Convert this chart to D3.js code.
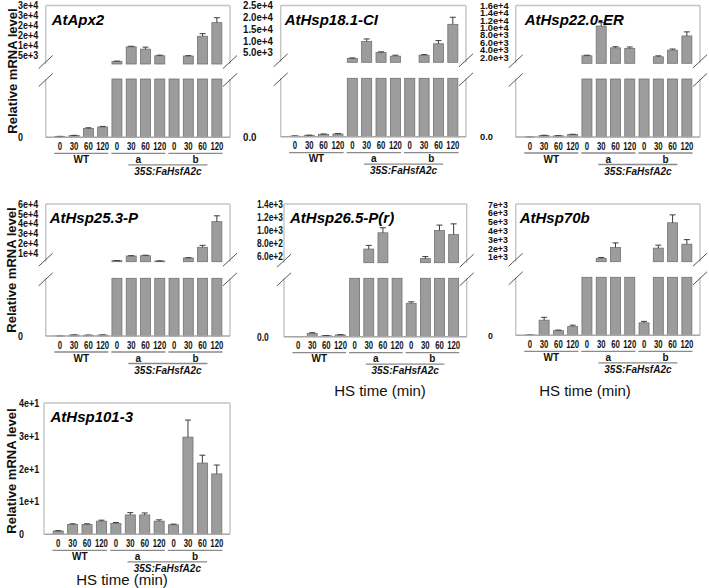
<!DOCTYPE html>
<html><head><meta charset="utf-8">
<script src="https://cdn.jsdelivr.net/npm/d3@7"></script>
<style>
body{margin:0;background:#fff;}
svg{display:block;font-family:"Liberation Sans",Arial,sans-serif;}
</style></head><body>
<svg id="c" width="709" height="588"></svg>
<script>
// ---------- DATA ----------
const timeLabels = ["0", "30", "60", "120"];
const groupLabels = ["WT", "a", "b"];
const lineLabel = "35S:FaHsfA2c";
const yAxisTitle = "Relative mRNA level";
const xAxisTitle = "HS time (min)";
const categories = groupLabels.flatMap(g => timeLabels.map(t => g + "|" + t));

const geneNames = ["AtApx2", "AtHsp18.1-CI", "AtHsp22.0-ER", "AtHsp25.3-P", "AtHsp26.5-P(r)", "AtHsp70b", "AtHsp101-3"];

// values in order WT 0/30/60/120, a 0/30/60/120, b 0/30/60/120
const apx2Values   = [4, 9, 45, 53, 1850, 9150, 8000, 4650, 400, 4500, 14500, 21350];
const apx2Errors   = [1, 1, 4, 3, 100, 300, 1000, 300, 20, 200, 1300, 2500];
const hsp18Values  = [3, 7, 12, 14, 2515, 9680, 5000, 3470, 500, 3880, 8730, 17000];
const hsp18Errors  = [1, 1, 2, 2, 200, 1100, 300, 400, 20, 250, 1350, 3000];
const hsp22Values  = [0.5, 8, 6, 13, 2430, 10460, 4570, 4400, 350, 2160, 3950, 7780];
const hsp22Errors  = [0.3, 1, 1, 1, 150, 900, 300, 400, 20, 250, 300, 1100];
const hsp25Values  = [0.5, 5, 4, 5, 1780, 6600, 6900, 1460, 600, 4550, 15550, 41870];
const hsp25Errors  = [0.3, 1, 1, 1, 150, 300, 500, 150, 30, 300, 2000, 6000];
const hsp26Values  = [0.5, 23, 7, 12, 450, 705, 956, 460, 229, 558, 992, 929];
const hsp26Errors  = [0.3, 4, 1, 2, 10, 57, 78, 10, 10, 31, 83, 165];
const hsp70Values  = [1, 52, 16, 30, 350, 820, 2056, 400, 43, 1980, 4865, 2430];
const hsp70Errors  = [0.5, 10, 2, 5, 10, 100, 520, 10, 5, 340, 900, 520];
const hsp101Values = [1.0, 3.0, 3.0, 4.0, 3.3, 5.9, 5.9, 4.0, 2.9, 29.6, 21.7, 18.4];
const hsp101Errors = [0.1, 0.2, 0.2, 0.3, 0.3, 0.7, 0.6, 0.4, 0.2, 5.2, 2.4, 2.7];

// axis domains: lower segment [0, max], upper segment [min, max]
const lowerMax   = [300, 300, 300, 300, 400, 200, 40];
const upperMin   = [500, 860, 400, 750, 495, 438, null];
const upperMax   = [30000, 25000, 16000, 60000, 1400, 7000, null];

// tick values and labels
const apx2Ticks = [5000, 10000, 15000, 20000, 25000, 30000];
const apx2TickLabels = ["5e+3", "1e+4", "2e+4", "2e+4", "3e+4", "3e+4"];
const hsp18Ticks = [5000, 10000, 15000, 20000, 25000];
const hsp18TickLabels = ["5.0e+3", "1.0e+4", "1.5e+4", "2.0e+4", "2.5e+4"];
const hsp22Ticks = [2000, 4000, 6000, 8000, 10000, 12000, 14000, 16000];
const hsp22TickLabels = ["2.0e+3", "4.0e+3", "6.0e+3", "8.0e+3", "1.0e+4", "1.2e+4", "1.4e+4", "1.6e+4"];
const hsp25Ticks = [10000, 20000, 30000, 40000, 50000, 60000];
const hsp25TickLabels = ["1e+4", "2e+4", "3e+4", "4e+4", "5e+4", "6e+4"];
const hsp26Ticks = [600, 800, 1000, 1200, 1400];
const hsp26TickLabels = ["6.0e+2", "8.0e+2", "1.0e+3", "1.2e+3", "1.4e+3"];
const hsp70Ticks = [1000, 2000, 3000, 4000, 5000, 6000, 7000];
const hsp70TickLabels = ["1e+3", "2e+3", "3e+3", "4e+3", "5e+3", "6e+3", "7e+3"];
const hsp101Ticks = [0, 10, 20, 30, 40];
const hsp101TickLabels = ["0", "1e+1", "2e+1", "3e+1", "4e+1"];
const zeroLabels = ["0", "0.0", "0.0", "0", "0.0", "0", null];

const allValues = [apx2Values, hsp18Values, hsp22Values, hsp25Values, hsp26Values, hsp70Values, hsp101Values];
const allErrors = [apx2Errors, hsp18Errors, hsp22Errors, hsp25Errors, hsp26Errors, hsp70Errors, hsp101Errors];
const allTicks = [apx2Ticks, hsp18Ticks, hsp22Ticks, hsp25Ticks, hsp26Ticks, hsp70Ticks, hsp101Ticks];
const allTickLabels = [apx2TickLabels, hsp18TickLabels, hsp22TickLabels, hsp25TickLabels, hsp26TickLabels, hsp70TickLabels, hsp101TickLabels];

// ---------- LAYOUT (positions / styles only) ----------
const layout = [
  {left: 45.7, right: 230, top: 5.5, axis: 137.3, ub: 64, lt: 79, lx: 18, tdx: 6, fs: 10.8, sx: 0.83},
  {left: 280.7, right: 466, top: 5.5, axis: 136.7, ub: 62.3, lt: 78.3, lx: 243, tdx: 4, fs: 10.5, sx: 0.92},
  {left: 515.7, right: 700, top: 5.5, axis: 137, ub: 63.3, lt: 79, lx: 480, tdx: 9, fs: 8.6, sx: 1.08},
  {left: 45.7, right: 230, top: 204, axis: 336, ub: 261.7, lt: 278.3, lx: 18, tdx: 4, fs: 10.8, sx: 0.83},
  {left: 284, right: 466.7, top: 204, axis: 336.7, ub: 262.7, lt: 278.3, lx: 257, tdx: 6, fs: 10.5, sx: 0.8},
  {left: 515.7, right: 700, top: 204, axis: 335.3, ub: 261.7, lt: 277.3, lx: 488, tdx: 4, fs: 9.5, sx: 0.93},
  {left: 44, right: 230, top: 403, axis: 534.3, ub: null, lt: null, lx: 19, tdx: 6.5, fs: 10.8, sx: 0.83}
];
const yTitlePos = [{x: 12, y: 71}, {x: 11, y: 270}, {x: 11, y: 471}];
const xTitlePos = [{x: 380, y: 391}, {x: 585, y: 391}, {x: 122, y: 579.5}];
const XT_FS = 10.2, XT_SX = 0.76;

const BAR_FILL = "#9c9c9c", BAR_STROKE = "#727272", FRAME = "#c4c4c4", AXIS = "#a8a8a8", ERR = "#3c3c3c";
const FONT = "Liberation Sans, Arial, sans-serif";

const svg = d3.select("#c");

function drawPanel(i) {
  const L = layout[i], vals = allValues[i], errs = allErrors[i];
  const g = svg.append("g");
  const broken = upperMin[i] !== null;
  const x = d3.scaleBand().domain(categories).range([L.left + 7, L.right - 6]).paddingInner(0.3).paddingOuter(0.15);
  const yL = broken ? d3.scaleLinear().domain([0, lowerMax[i]]).range([L.axis, L.lt])
                    : d3.scaleLinear().domain([0, lowerMax[i]]).range([L.axis, L.top]);
  const yU = broken ? d3.scaleLinear().domain([upperMin[i], upperMax[i]]).range([L.ub, L.top]) : null;

  // frame
  const fr = g.append("g").attr("stroke", FRAME).attr("stroke-width", 1.4).attr("fill", "none");
  fr.append("line").attr("x1", L.left).attr("x2", L.right).attr("y1", L.top).attr("y2", L.top);
  [L.left, L.right].forEach(xx => {
    if (broken) {
      fr.append("line").attr("x1", xx).attr("x2", xx).attr("y1", L.top).attr("y2", L.ub);
      fr.append("line").attr("x1", xx).attr("x2", xx).attr("y1", L.lt).attr("y2", L.axis);
    } else {
      fr.append("line").attr("x1", xx).attr("x2", xx).attr("y1", L.top).attr("y2", L.axis);
    }
  });

  // bars
  const bars = g.append("g").attr("fill", BAR_FILL).attr("stroke", BAR_STROKE).attr("stroke-width", 0.8);
  const eg = g.append("g").attr("stroke", ERR).attr("stroke-width", 1);
  categories.forEach((c, k) => {
    const v = vals[k], e = errs[k];
    const bx = x(c), bw = x.bandwidth(), cx = bx + bw / 2;
    const lowTop = yL(Math.min(v, lowerMax[i]));
    bars.append("rect").attr("x", bx).attr("y", lowTop).attr("width", bw).attr("height", Math.max(0, L.axis - lowTop));
    let errScale = null;
    if (!broken || v <= lowerMax[i]) errScale = yL;
    if (broken && v > upperMin[i]) {
      const t = yU(v);
      bars.append("rect").attr("x", bx).attr("y", t).attr("width", bw).attr("height", Math.max(0, L.ub - t));
      errScale = yU;
    }
    if (errScale) {
      const y0 = errScale(v), y1 = errScale(v + e);
      eg.append("line").attr("x1", cx).attr("x2", cx).attr("y1", y0).attr("y2", y1);
      eg.append("line").attr("x1", cx - 3).attr("x2", cx + 3).attr("y1", y1).attr("y2", y1);
    }
  });

  // bottom axis line
  g.append("line").attr("x1", L.left).attr("x2", L.right).attr("y1", L.axis).attr("y2", L.axis)
    .attr("stroke", AXIS).attr("stroke-width", 1.4);

  // break marks
  if (broken) {
    const sl = g.append("g").attr("stroke", "#555").attr("stroke-width", 1);
    [L.left, L.right].forEach(xx => {
      [L.ub - 2, L.lt + 1].forEach(yy => {
        sl.append("line").attr("x1", xx - 7).attr("x2", xx + 7).attr("y1", yy + 6.5).attr("y2", yy - 6.5);
      });
    });
  }

  // y axis labels (left aligned, slightly condensed)
  const styleAxis = (sel) => {
    sel.select(".domain").remove();
    sel.selectAll(".tick line").remove();
    sel.attr("font-family", FONT).attr("font-size", L.fs);
    sel.selectAll("text").attr("x", (L.lx - L.left) / L.sx).attr("transform", `scale(${L.sx},1)`)
      .attr("text-anchor", "start").attr("font-weight", "bold").attr("fill", "#111");
  };
  const ticks = allTicks[i], tl = allTickLabels[i];
  if (broken) {
    g.append("g").attr("transform", `translate(${L.left},0)`)
      .call(d3.axisLeft(yU).tickValues(ticks).tickFormat((d, j) => tl[j]).tickSize(0)).call(styleAxis);
    g.append("g").attr("transform", `translate(${L.left},0)`)
      .call(d3.axisLeft(yL).tickValues([0]).tickFormat(() => zeroLabels[i]).tickSize(0)).call(styleAxis);
  } else {
    g.append("g").attr("transform", `translate(${L.left},0)`)
      .call(d3.axisLeft(yL).tickValues(ticks).tickFormat((d, j) => tl[j]).tickSize(0)).call(styleAxis);
  }

  // x tick labels
  const xa = g.append("g").attr("transform", `translate(0,${L.axis})`)
    .call(d3.axisBottom(x).tickFormat(d => d.split("|")[1]).tickSize(0).tickPadding(5.5));
  xa.select(".domain").remove();
  xa.attr("font-family", FONT).attr("font-size", XT_FS);
  xa.selectAll("text").attr("transform", `scale(${XT_SX},1)`).attr("font-weight", "bold").attr("fill", "#111");

  // group underlines and labels
  const ul = g.append("g").attr("stroke", "#8a8a8a").attr("stroke-width", 1.3);
  const gc = {};
  groupLabels.forEach(gr => {
    const first = x(gr + "|" + timeLabels[0]), last = x(gr + "|" + timeLabels[3]) + x.bandwidth();
    const pad = (x.step() - x.bandwidth()) / 2;
    ul.append("line").attr("x1", first - pad + 1.5).attr("x2", last + pad - 1.5)
      .attr("y1", L.axis + 16).attr("y2", L.axis + 16);
    gc[gr] = (first + last) / 2;
    g.append("text").attr("x", gc[gr]).attr("y", L.axis + 25.5).attr("text-anchor", "middle")
      .attr("font-size", 10).attr("font-weight", "bold").attr("fill", "#111").text(gr);
  });
  ul.append("line").attr("x1", gc["a"] - 10).attr("x2", gc["b"] + 12)
    .attr("y1", L.axis + 27.5).attr("y2", L.axis + 27.5);
  g.append("text").attr("x", (gc["a"] + gc["b"]) / 2 + 1).attr("y", L.axis + 37.5).attr("text-anchor", "middle")
    .attr("font-size", 10).attr("font-weight", "bold").attr("font-style", "italic").attr("fill", "#111").text(lineLabel);

  // title
  g.append("text").attr("x", L.left + L.tdx).attr("y", L.top + 19)
    .attr("font-size", 15).attr("font-weight", "bold").attr("font-style", "italic").attr("fill", "#000")
    .text(geneNames[i]);
}

for (let i = 0; i < 7; i++) drawPanel(i);

yTitlePos.forEach(p => {
  svg.append("text").attr("transform", `translate(${p.x},${p.y}) rotate(-90)`).attr("text-anchor", "middle")
    .attr("dy", "0.35em").attr("font-size", 13).attr("font-weight", "bold").attr("fill", "#111").text(yAxisTitle);
});
xTitlePos.forEach(p => {
  svg.append("text").attr("x", p.x).attr("y", p.y).attr("dy", "0.35em").attr("text-anchor", "middle")
    .attr("font-size", 15).attr("fill", "#111").text(xAxisTitle);
});
</script>
</body></html>
